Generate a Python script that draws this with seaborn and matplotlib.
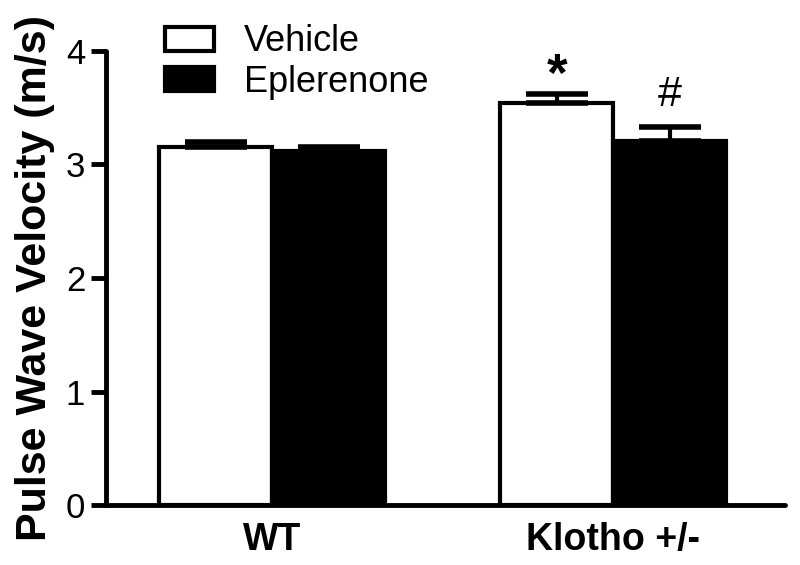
import matplotlib
matplotlib.use("Agg")
import matplotlib.pyplot as plt
from matplotlib.patches import Patch
import seaborn as sns
import pandas as pd
import numpy as np

groups = ["WT", "WT", "Klotho +/-", "Klotho +/-"]
treatments = ["Vehicle", "Eplerenone", "Vehicle", "Eplerenone"]
pwv = [3.15, 3.12, 3.54, 3.21]
sem = [0.05, 0.035, 0.08, 0.12]
sig_marks = ["", "", "*", "#"]
yticks = [0, 1, 2, 3, 4]

df = pd.DataFrame({"group": groups, "treatment": treatments, "pwv": pwv, "err": sem, "mark": sig_marks})

sns.set_style("ticks")
plt.rcParams["font.family"] = ["Liberation Sans", "DejaVu Sans"]
plt.rcParams["text.color"] = "black"
plt.rcParams["xtick.color"] = "black"
plt.rcParams["ytick.color"] = "black"
plt.rcParams["axes.labelcolor"] = "black"
plt.rcParams["axes.edgecolor"] = "black"

fig = plt.figure(figsize=(8, 5.65), dpi=100)
ax = fig.add_axes([0.1325, 0.106, 0.849, 0.804])

order = ["WT", "Klotho +/-"]
hue_order = ["Vehicle", "Eplerenone"]
sns.barplot(data=df, x="group", y="pwv", hue="treatment", order=order, hue_order=hue_order,
            palette=["white", "black"], edgecolor="black", linewidth=3, width=0.663,
            saturation=1, errorbar=None, ax=ax, legend=False)

# error bars (upper only) and significance marks
bars = [p for p in ax.patches if p.get_height() > 0]
for p in bars:
    xc = p.get_x() + p.get_width() / 2
    h = p.get_height()
    grp = order[int(round(xc))]
    tr = hue_order[0] if p.get_facecolor()[0] > 0.5 else hue_order[1]
    row = df[(df["group"] == grp) & (df["treatment"] == tr)].iloc[0]
    e = float(row["err"])
    _, caps, _ = ax.errorbar([xc], [h], yerr=[[0], [e]], fmt="none", ecolor="black",
                             elinewidth=3, capsize=22, capthick=4, zorder=3)
    for c in caps:
        c.set_solid_capstyle("round")
    m = row["mark"]
    if m == "*":
        ax.annotate(m, (xc, h + e), xytext=(0, 2.5), textcoords="offset points",
                    ha="center", va="baseline", fontsize=38, fontweight="bold")
    elif m:
        ax.annotate(m, (xc, h + e), xytext=(0, 15), textcoords="offset points",
                    ha="center", va="baseline", fontsize=31)

ax.set_ylim(0, 4)
ax.set_xlim(-0.487, 1.504)
ax.set_yticks(yticks)
ax.set_yticklabels([str(t) for t in yticks], fontsize=25)
ax.set_xticks([0, 1])
ax.set_xticklabels(order, fontsize=27, fontweight="bold")
ax.tick_params(axis="y", length=11, width=3.5, direction="out", pad=4)
ax.tick_params(axis="x", length=0, pad=12)
ax.set_xlabel("")
ax.set_ylabel("Pulse Wave Velocity (m/s)", fontsize=31, fontweight="bold", labelpad=8)
for s in ["top", "right"]:
    ax.spines[s].set_visible(False)
for s in ["left", "bottom"]:
    ax.spines[s].set_linewidth(3.5)
    ax.spines[s].set_capstyle("round")

handles = [Patch(facecolor="white", edgecolor="black", linewidth=3, label="Vehicle"),
           Patch(facecolor="black", edgecolor="black", linewidth=3, label="Eplerenone")]
fig.legend(handles=handles, loc="upper left", bbox_to_anchor=(0.206, 0.957), frameon=False,
           fontsize=26, handlelength=1.35, handleheight=0.65, handletextpad=0.85,
           labelspacing=0.15, borderpad=0, borderaxespad=0)

fig.savefig("out.png", dpi=100)
